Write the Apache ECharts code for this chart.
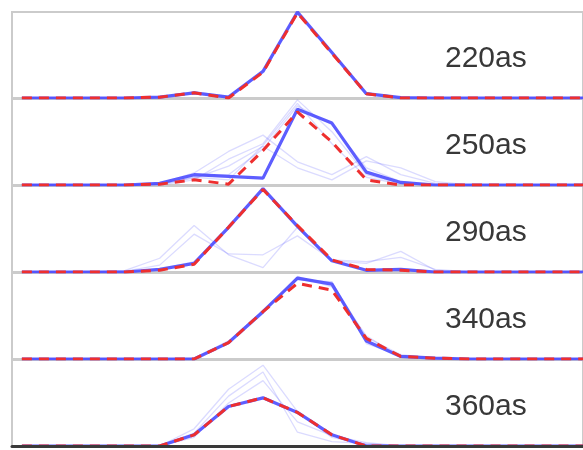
<!DOCTYPE html>
<html>
<head>
<meta charset="utf-8">
<script src="https://cdn.jsdelivr.net/npm/echarts@6/dist/echarts.min.js"></script>
<style>html,body{margin:0;padding:0;background:#fff}#c{width:583px;height:450px}</style>
</head>
<body>
<div id="c"></div>
<script>
// x positions (sample index)
var xIndex = [0,1,2,3,4,5,6,7,8,9,10,11,12,13,14,15,16,17];
var panelLabels = ['220as','250as','290as','340as','360as'];

// Panel 1 (220as)
var p1Faint = [
  [0,0,0,0,0.01,0.05,0.01,0.32,0.98,0.52,0.06,0.01,0,0,0,0,0,0],
  [0,0,0,0,0.01,0.07,0.02,0.29,1.00,0.54,0.04,0.00,0,0,0,0,0,0]
];
var p1Blue = [0,0,0,0,0.01,0.06,0.01,0.31,1.00,0.53,0.05,0.005,0,0,0,0,0,0];
var p1Red  = [0,0,0,0,0.01,0.06,0.00,0.30,0.99,0.52,0.05,0.00,0,0,0,0,0,0];

// Panel 2 (250as)
var p2Faint = [
  [0,0,0,0,0.02,0.14,0.39,0.58,0.27,0.12,0.33,0.12,0.02,0,0,0,0,0],
  [0,0,0,0,0.00,0.06,0.30,0.48,0.99,0.62,0.12,0.02,0,0,0,0,0,0],
  [0,0,0,0,0.01,0.08,0.22,0.45,0.20,0.06,0.28,0.20,0.04,0,0,0,0,0],
  [0,0,0,0,0.01,0.10,0.12,0.42,0.92,0.70,0.20,0.04,0,0,0,0,0,0],
  [0,0,0,0,0.01,0.09,0.06,0.46,0.95,0.48,0.09,0.01,0,0,0,0,0,0]
];
var p2Blue = [0,0,0,0,0.02,0.12,0.10,0.08,0.88,0.72,0.15,0.03,0,0,0,0,0,0];
var p2Red  = [0,0,0,0,0.01,0.06,0.01,0.40,0.85,0.50,0.06,0.00,0,0,0,0,0,0];

// Panel 3 (290as)
var p3Faint = [
  [0,0,0,0.02,0.16,0.54,0.20,0.05,0.52,0.13,0.10,0.24,0.02,0,0,0,0,0],
  [0,0,0,0.01,0.08,0.44,0.21,0.20,0.42,0.14,0.12,0.17,0.03,0,0,0,0,0],
  [0,0,0,0,0.03,0.12,0.50,0.95,0.55,0.14,0.03,0.04,0,0,0,0,0,0]
];
var p3Blue = [0,0,0,0,0.03,0.10,0.52,0.97,0.53,0.13,0.02,0.03,0,0,0,0,0,0];
var p3Red  = [0,0,0,0,0.02,0.09,0.52,0.96,0.54,0.14,0.03,0.02,0,0,0,0,0,0];

// Panel 4 (340as)
var p4Faint = [
  [0,0,0,0,0,0.00,0.20,0.57,0.92,0.90,0.18,0.04,0.01,0,0,0,0,0],
  [0,0,0,0,0,0.00,0.18,0.53,0.96,0.84,0.27,0.02,0.01,0,0,0,0,0],
  [0,0,0,0,0,0.01,0.21,0.56,0.93,0.89,0.25,0.05,0.01,0,0,0,0,0]
];
var p4Blue = [0,0,0,0,0,0.00,0.19,0.55,0.94,0.87,0.21,0.03,0.01,0,0,0,0,0];
var p4Red  = [0,0,0,0,0,0.00,0.19,0.55,0.88,0.80,0.24,0.03,0.01,0,0,0,0,0];

// Panel 5 (360as)
var p5Faint = [
  [0,0,0,0,0,0.20,0.66,0.94,0.40,0.10,0.02,0,0,0,0,0,0,0],
  [0,0,0,0,0,0.15,0.58,0.86,0.16,0.05,0.03,0,0,0,0,0,0,0],
  [0,0,0,0,0,0.10,0.50,0.76,0.28,0.12,0.04,0,0,0,0,0,0,0]
];
var p5Blue = [0,0,0,0,0,0.13,0.46,0.56,0.39,0.13,0.00,0,0,0,0,0,0,0];
var p5Red  = [0,0,0,0,0,0.13,0.46,0.56,0.39,0.13,0.00,0,0,0,0,0,0,0];

var panels = [
  {faint:p1Faint, blue:p1Blue, red:p1Red},
  {faint:p2Faint, blue:p2Blue, red:p2Red},
  {faint:p3Faint, blue:p3Blue, red:p3Red},
  {faint:p4Faint, blue:p4Blue, red:p4Red},
  {faint:p5Faint, blue:p5Blue, red:p5Red}
];

function pairs(vals){ return vals.map(function(v,i){ return [xIndex[i], v]; }); }

var grids=[], xAxes=[], yAxes=[], series=[], graphics=[];
var TOP0 = 12, STEP = 87, H = 86;
panels.forEach(function(p, k){
  var top = TOP0 + STEP*k;
  grids.push({left:12, right:-6, top:top, height:H, show:true, borderColor:'#cbcbcb', borderWidth:2, backgroundColor:'transparent', containLabel:false});
  xAxes.push({type:'value', gridIndex:k, min:-0.287, max:16.29, show:true, z:10,
    axisLine:{show:k===4, lineStyle:{color:'#3a3a3a', width:3}}, axisTick:{show:false}, axisLabel:{show:false}, splitLine:{show:false}});
  yAxes.push({type:'value', gridIndex:k, min:0, max:1, show:false});
  p.faint.forEach(function(f){
    series.push({type:'line', xAxisIndex:k, yAxisIndex:k, data:pairs(f), symbol:'none', silent:true,
      lineStyle:{color:'rgba(90,90,255,0.22)', width:1.3}, z:2});
  });
  series.push({type:'line', xAxisIndex:k, yAxisIndex:k, data:pairs(p.blue), symbol:'none', silent:true,
    lineStyle:{color:'#4d4dff', width:3.2, opacity:0.9}, z:3});
  series.push({type:'line', xAxisIndex:k, yAxisIndex:k, data:pairs(p.red), symbol:'none', silent:true,
    lineStyle:{color:'#ee2f2f', width:3, type:[10,7]}, z:4});
  graphics.push({type:'text', left:445, top:top+50-18, silent:true,
    style:{text:panelLabels[k], font:'30px "Liberation Sans", Arial, sans-serif', fill:'#383838'}});
});

var chart = echarts.init(document.getElementById('c'), null, {renderer:'canvas'});
chart.setOption({
  animation:false,
  backgroundColor:'#ffffff',
  grid:grids, xAxis:xAxes, yAxis:yAxes, series:series, graphic:graphics
});
</script>
</body>
</html>
